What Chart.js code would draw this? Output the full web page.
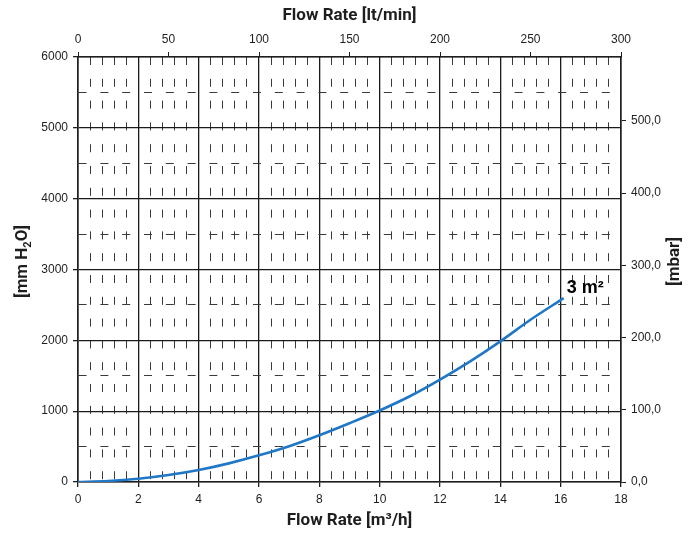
<!DOCTYPE html>
<html>
<head>
<meta charset="utf-8">
<script src="https://cdn.jsdelivr.net/npm/chart.js@4.4.1/dist/chart.umd.min.js"></script>
<style>
  html, body { margin: 0; padding: 0; background: #fff; }
  #wrap { width: 699px; height: 534px; }
</style>
</head>
<body>
<div id="wrap"><canvas id="chart" width="699" height="534"></canvas></div>
<script>
// Pressure drop curve, 3 m2 filter
const flowM3h = [0, 1, 2, 3, 4, 5, 6, 7, 8, 9, 10, 11, 12, 13, 14, 15, 16.1];
const headMmH2O = [0, 14, 46, 98, 169, 263, 376, 505, 660, 830, 1010, 1211, 1446, 1704, 1986, 2291, 2596];
const curveLabel = "3 m²";

// axis ticks
const flowTicks = [0, 2, 4, 6, 8, 10, 12, 14, 16, 18];
const flowLtTicks = [0, 50, 100, 150, 200, 250, 300];
const headTicks = [0, 1000, 2000, 3000, 4000, 5000, 6000];
const mbarTicks = [0, 100, 200, 300, 400, 500];
const flowMinorStep = 0.4;
const headMinorStep = 500;
const MM_PER_MBAR = 10.19716;

const tickFont = { family: '"Liberation Sans", Arial, sans-serif', size: 12 };
const titleFont = { family: "Roboto", weight: "bold", size: 17 };
const ink = "#1e1e1e";
const minorDash = [8, 13.8];

function withMinors(majors, step) {
  const out = [];
  for (let i = 0; i < majors.length - 1; i++) {
    for (let v = majors[i]; v < majors[i + 1] - 1e-9; v += step) {
      out.push(Math.round(v * 1000) / 1000);
    }
  }
  out.push(majors[majors.length - 1]);
  return out;
}

function isMajor(v, majors) {
  return majors.some((m) => Math.abs(m - v) < 1e-6);
}

function tickIsMajor(ctx, majors) {
  return !ctx.tick || isMajor(ctx.tick.value, majors);
}

function setTicks(list) {
  return function (scale) {
    scale.ticks = list.map((v) => ({ value: v }));
  };
}

// rotated side titles (both read bottom to top) and the curve label
const chartLabels = {
  id: "chartLabels",
  afterDraw(chart) {
    const { ctx, chartArea } = chart;
    const midY = (chartArea.top + chartArea.bottom) / 2 - 8;

    ctx.save();
    ctx.fillStyle = ink;
    ctx.textBaseline = "middle";

    // [mm H2O] with subscript 2
    const big = "bold 17px Roboto";
    const small = "bold 11px Roboto";
    const parts = [
      { t: "[mm H", f: big, dy: 0 },
      { t: "2", f: small, dy: 5 },
      { t: "O]", f: big, dy: 0 },
    ];
    let total = 0;
    parts.forEach((p) => {
      ctx.font = p.f;
      p.w = ctx.measureText(p.t).width;
      total += p.w;
    });
    ctx.save();
    ctx.translate(chartArea.left - 55, midY);
    ctx.rotate(-Math.PI / 2);
    let x = -total / 2;
    ctx.textAlign = "left";
    parts.forEach((p) => {
      ctx.font = p.f;
      ctx.fillText(p.t, x, p.dy);
      x += p.w;
    });
    ctx.restore();

    // [mbar]
    ctx.save();
    ctx.translate(chartArea.right + 54, midY);
    ctx.rotate(-Math.PI / 2);
    ctx.textAlign = "center";
    ctx.font = big;
    ctx.fillText("[mbar]", 0, 0);
    ctx.restore();

    // curve label at the end of the line
    const meta = chart.getDatasetMeta(0);
    const last = meta.data[meta.data.length - 1];
    if (last) {
      ctx.font = 'bold 18px "Liberation Sans", Arial, sans-serif';
      ctx.textAlign = "left";
      ctx.textBaseline = "alphabetic";
      ctx.fillStyle = "#000";
      ctx.fillText(curveLabel, last.x + 3, last.y - 5);
    }
    ctx.restore();
  },
};

new Chart(document.getElementById("chart"), {
  type: "scatter",
  data: {
    datasets: [
      {
        label: curveLabel,
        data: flowM3h.map((x, i) => ({ x: x, y: headMmH2O[i] })),
        showLine: true,
        borderColor: "#1f77c6",
        borderWidth: 2.6,
        pointRadius: 0,
        cubicInterpolationMode: "monotone",
        xAxisID: "x",
        yAxisID: "y",
      },
    ],
  },
  options: {
    responsive: false,
    animation: false,
    layout: { padding: 0, autoPadding: false },
    plugins: {
      legend: { display: false },
      tooltip: { enabled: false },
    },
    scales: {
      x: {
        type: "linear",
        position: "bottom",
        min: 0,
        max: 18,
        afterBuildTicks: setTicks(withMinors(flowTicks, flowMinorStep)),
        afterFit: (s) => { s.height = 52; },
        ticks: {
          autoSkip: false,
          maxRotation: 0,
          padding: 5,
          color: ink,
          font: tickFont,
          callback: (v) => (isMajor(v, flowTicks) ? String(v) : ""),
        },
        grid: {
          color: (c) => (tickIsMajor(c, flowTicks) ? "#1a1a1a" : "#3a3a3a"),
          lineWidth: (c) => (tickIsMajor(c, flowTicks) ? 1.3 : 1),
          tickLength: 5,
          tickColor: (c) => (tickIsMajor(c, flowTicks) ? ink : "rgba(0,0,0,0)"),
        },
        border: {
          color: ink,
          width: 1.6,
          dash: (c) => (tickIsMajor(c, flowTicks) ? [] : minorDash),
        },
        title: {
          display: true,
          text: "Flow Rate [m³/h]",
          color: ink,
          font: titleFont,
          padding: { top: 0, bottom: 3 },
        },
      },
      xTop: {
        type: "linear",
        position: "top",
        min: 0,
        max: 300,
        afterBuildTicks: setTicks(flowLtTicks),
        afterFit: (s) => { s.height = 57; },
        ticks: { autoSkip: false, maxRotation: 0, padding: 5, color: ink, font: tickFont },
        grid: { drawOnChartArea: false, tickLength: 5, color: ink },
        border: { color: ink, width: 1.6 },
        title: {
          display: true,
          text: "Flow Rate [lt/min]",
          color: ink,
          font: titleFont,
          padding: { top: 6, bottom: 0 },
        },
      },
      y: {
        type: "linear",
        position: "left",
        min: 0,
        max: 6000,
        afterBuildTicks: setTicks(withMinors(headTicks, headMinorStep)),
        afterFit: (s) => { s.width = 78; },
        ticks: {
          autoSkip: false,
          padding: 5,
          color: ink,
          font: tickFont,
          callback: (v) => (isMajor(v, headTicks) ? String(v) : ""),
        },
        grid: {
          color: (c) => (tickIsMajor(c, headTicks) ? "#1a1a1a" : "#3a3a3a"),
          lineWidth: (c) => (tickIsMajor(c, headTicks) ? 1.3 : 1),
          tickLength: 5,
          tickColor: (c) => (tickIsMajor(c, headTicks) ? ink : "rgba(0,0,0,0)"),
        },
        border: {
          color: ink,
          width: 1.6,
          dash: (c) => (tickIsMajor(c, headTicks) ? [] : minorDash),
        },
      },
      yRight: {
        type: "linear",
        position: "right",
        min: 0,
        max: 6000 / MM_PER_MBAR,
        afterBuildTicks: setTicks(mbarTicks),
        afterFit: (s) => { s.width = 78; },
        ticks: {
          autoSkip: false,
          padding: 5,
          color: ink,
          font: tickFont,
          callback: (v) => v.toFixed(1).replace(".", ","),
        },
        grid: { drawOnChartArea: false, tickLength: 5, color: ink },
        border: { color: ink, width: 1.6 },
      },
    },
  },
  plugins: [chartLabels],
});
</script>
</body>
</html>
